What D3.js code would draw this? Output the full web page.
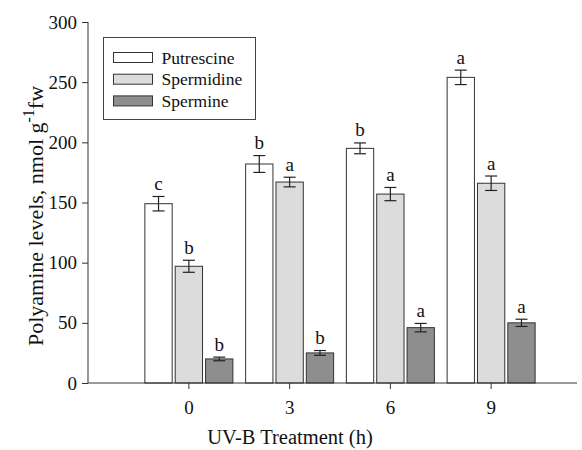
<!DOCTYPE html>
<html><head><meta charset="utf-8">
<script src="https://cdn.jsdelivr.net/npm/d3@7"></script>
<style>body{margin:0;background:#fff}svg{display:block}svg text{font-family:"Times New Roman","Liberation Serif",Times,"DejaVu Serif",serif !important;fill:#111}</style>
</head><body><svg id="c" width="582" height="450"></svg>
<script>
const categories = ["0","3","6","9"];
const seriesNames = ["Putrescine","Spermidine","Spermine"];
const putrescine = [149,182,195,254];
const spermidine = [97,167,157,166];
const spermine = [20,25,46,50];
const putrescineErr = [6,7,4.5,6];
const spermidineErr = [5,4,5.5,6];
const spermineErr = [1.5,2,3.5,3];
const putrescineSig = ["c","b","b","a"];
const spermidineSig = ["b","a","a","a"];
const spermineSig = ["b","b","a","a"];
const yTicks = [0,50,100,150,200,250,300];
const colors = ["#ffffff","#dcdcdc","#8e8e8e"];

const series = [
  {name: seriesNames[0], values: putrescine, err: putrescineErr, sig: putrescineSig},
  {name: seriesNames[1], values: spermidine, err: spermidineErr, sig: spermidineSig},
  {name: seriesNames[2], values: spermine, err: spermineErr, sig: spermineSig}
];

const svg = d3.select("#c");
const axL = 88, axR = 577, y0 = 383, y1 = 22;
const y = d3.scaleLinear().domain([0,300]).range([y0,y1]);
const x = d3.scaleBand().domain(categories).range([138.5,541.5]).paddingInner(0).paddingOuter(0);
const xs = d3.scaleBand().domain(seriesNames).range([0, x.bandwidth()]).paddingInner(0.1).paddingOuter(0.21);

// bars
series.forEach((s,si)=>{
  const g = svg.append("g");
  s.values.forEach((v,i)=>{
    const bx = x(categories[i]) + xs(s.name);
    const bw = xs.bandwidth();
    g.append("rect").attr("x",bx).attr("y",y(v)).attr("width",bw).attr("height",y(0)-y(v))
      .attr("fill",colors[si]).attr("stroke","#333").attr("stroke-width",1);
    const cx = bx + bw/2;
    const et = y(v + s.err[i]), eb = y(v - s.err[i]);
    g.append("line").attr("x1",cx).attr("x2",cx).attr("y1",et).attr("y2",eb).attr("stroke","#222").attr("stroke-width",1.2);
    [et,eb].forEach(yy=>g.append("line").attr("x1",cx-6).attr("x2",cx+6).attr("y1",yy).attr("y2",yy).attr("stroke","#222").attr("stroke-width",1.2));
    g.append("text").attr("x",cx).attr("y",et-6.5).attr("text-anchor","middle").attr("font-size",19).text(s.sig[i]);
  });
});

// y axis
const yAxis = d3.axisLeft(y).tickValues(yTicks).tickSize(6).tickPadding(5).tickFormat(d3.format("d"));
const ga = svg.append("g").attr("transform",`translate(${axL},0)`).call(yAxis);
ga.attr("font-family",null);
ga.select(".domain").attr("d",`M0,${y1}V${y0}`).attr("stroke","#333");
ga.selectAll(".tick line").attr("stroke","#333");
ga.selectAll("text").attr("font-size",19).attr("fill","#111");

// x axis
const xAxis = d3.axisBottom(x).tickSize(6).tickPadding(12);
const gx = svg.append("g").attr("transform",`translate(0,${y0})`).call(xAxis);
gx.attr("font-family",null);
gx.select(".domain").attr("d",`M${axL},0H${axR}`).attr("stroke","#333");
gx.selectAll(".tick line").attr("stroke","#333");
gx.selectAll("text").attr("font-size",19).attr("fill","#111");

// axis titles
svg.append("text").attr("x",290).attr("y",444).attr("text-anchor","middle").attr("font-size",20.5).text("UV-B Treatment (h)");
const yt = svg.append("text").attr("transform",`translate(43,216) rotate(-90)`).attr("text-anchor","middle").attr("font-size",22);
yt.append("tspan").text("Polyamine levels, nmol g");
yt.append("tspan").attr("dy",-9).attr("font-size",16).text("-1");
yt.append("tspan").attr("dy",9).text("fw");

// legend
const lg = svg.append("g");
lg.append("rect").attr("x",103.5).attr("y",37.5).attr("width",152).attr("height",82).attr("fill","#fff").attr("stroke","#444");
seriesNames.forEach((n,i)=>{
  const cy = 57.5 + i*21.7;
  lg.append("rect").attr("x",113.5).attr("y",cy-5).attr("width",39).attr("height",10).attr("fill",colors[i]).attr("stroke","#333");
  lg.append("text").attr("x",161.5).attr("y",cy+6).attr("font-size",17.5).text(n);
});
</script></body></html>
